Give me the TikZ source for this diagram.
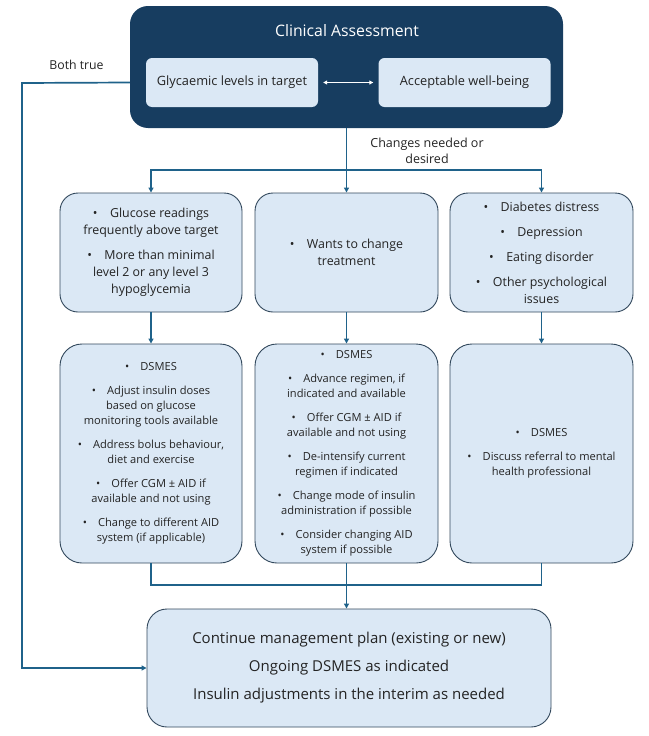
\documentclass[tikz,border=0pt]{standalone}
\usepackage{fontspec}
\setmainfont{Open Sans}
\usepackage{tikz}
\usetikzlibrary{positioning,arrows.meta}
\definecolor{navy}{RGB}{23,61,96}
\definecolor{paleblue}{RGB}{219,232,245}
\definecolor{edgegrey}{RGB}{50,72,92}
\definecolor{flowblue}{RGB}{31,98,138}
\definecolor{inktext}{RGB}{35,35,35}

\begin{document}
\begin{tikzpicture}[x=1pt,y=-1pt]
\tikzstyle{box}=[draw=edgegrey,line width=0.9pt,fill=paleblue,rounded corners=18pt,text=inktext,align=center,inner sep=0pt]
\tikzstyle{inner}=[fill=paleblue,rounded corners=6pt,text=inktext,minimum width=172pt,minimum height=49pt,inner sep=0pt,font=\fontsize{12.8}{14}\selectfont]
\tikzstyle{flow}=[draw=flowblue,line width=1.7pt]
\tikzstyle{tip}=[-{Triangle[length=5pt,width=5pt]}]
\tikzstyle{needfont}=[font=\fontsize{12.4}{17}\selectfont]
\tikzstyle{actfont}=[font=\fontsize{11.1}{15}\selectfont]
    \useasboundingbox (0,0) rectangle (648,736);
    % top assessment block
    \node[fill=navy,rounded corners=18pt,minimum width=433pt,minimum height=122pt] (assess) at (346.5,67) {};
    \node[text=white,font=\fontsize{15.8}{16}\selectfont] (title) at (347,31) {Clinical Assessment};
    \node[inner] (glyc) at (232,82.5) {Glycaemic levels in target};
    \node[inner] (well) at (464.5,82.5) {Acceptable well-being};
    \draw[white,line width=1.2pt,{Triangle[length=4pt,width=4pt]}-{Triangle[length=4pt,width=4pt]}] (glyc.east) ++(5,0) -- ([xshift=-5pt]well.west);
    \node[text=inktext,font=\fontsize{12.3}{14}\selectfont] (both) at (76.5,65) {Both true};
    \node[text=inktext,align=center,font=\fontsize{12.5}{16}\selectfont] (changes) at (427,151) {Changes needed or\\desired};
    % reasons
    \node[box,minimum width=182pt,minimum height=119pt,needfont] (need1) at (151,252.5)
        {\textbullet\hspace{1em}Glucose readings\\frequently above target\\[8pt]
         \textbullet\hspace{1em}More than minimal\\level 2 or any level 3\\hypoglycemia};
    \node[box,minimum width=183pt,minimum height=119pt,needfont] (need2) at (346.5,252.5)
        {\textbullet\hspace{1em}Wants to change\\treatment};
    \node[box,minimum width=183pt,minimum height=119pt,needfont] (need3) at (541.5,252.5)
        {\textbullet\hspace{1em}Diabetes distress\\[8pt]\textbullet\hspace{1em}Depression\\[8pt]
         \textbullet\hspace{1em}Eating disorder\\[8pt]\textbullet\hspace{1em}Other psychological\\issues};
    % actions
    \node[box,rounded corners=22pt,minimum width=182pt,minimum height=219pt,actfont] (act1) at (151,453.5)
        {\textbullet\hspace{1em}DSMES\\[9pt]
         \textbullet\hspace{1em}Adjust insulin doses\\based on glucose\\monitoring tools available\\[9pt]
         \textbullet\hspace{1em}Address bolus behaviour,\\diet and exercise\\[9pt]
         \textbullet\hspace{1em}Offer CGM ± AID if\\available and not using\\[9pt]
         \textbullet\hspace{1em}Change to different AID\\system (if applicable)};
    \node[box,rounded corners=22pt,minimum width=183pt,minimum height=219pt,actfont] (act2) at (346.5,453.5)
        {\textbullet\hspace{1em}DSMES\\[9pt]
         \textbullet\hspace{1em}Advance regimen, if\\indicated and available\\[9pt]
         \textbullet\hspace{1em}Offer CGM ± AID if\\available and not using\\[9pt]
         \textbullet\hspace{1em}De-intensify current\\regimen if indicated\\[9pt]
         \textbullet\hspace{1em}Change mode of insulin\\administration if possible\\[9pt]
         \textbullet\hspace{1em}Consider changing AID\\system if possible};
    \node[box,rounded corners=22pt,minimum width=183pt,minimum height=219pt,actfont] (act3) at (541.5,453.5)
        {\textbullet\hspace{1em}DSMES\\[9pt]
         \textbullet\hspace{1em}Discuss referral to mental\\health professional};
    % outcome
    \node[box,rounded corners=20pt,minimum width=404pt,minimum height=118pt,font=\fontsize{15}{28}\selectfont] (plan) at (349,668)
        {Continue management plan (existing or new)\\Ongoing DSMES as indicated\\Insulin adjustments in the interim as needed};
    % connectors
    \coordinate (split) at (346.5,170);
    \coordinate (merge) at (346.5,585);
    \coordinate (corner) at (22,83);
    \draw[flow] (assess.south -| split) -- (split);
    \draw[flow,tip] (split) -| (need1.north);
    \draw[flow,tip] (split) -- (need2.north);
    \draw[flow,tip] (split) -| (need3.north);
    \draw[flow,tip] (need1.south) -- (act1.north);
    \draw[flow,tip] (need2.south) -- (act2.north);
    \draw[flow,tip] (need3.south) -- (act3.north);
    \draw[flow] (act1.south) |- (merge);
    \draw[flow] (act3.south) |- (merge);
    \draw[flow,tip] (act2.south) -- (plan.north -| merge);
    \draw[flow,tip] (assess.west |- glyc) -- (corner) |- (plan.west);
\end{tikzpicture}
\end{document}
